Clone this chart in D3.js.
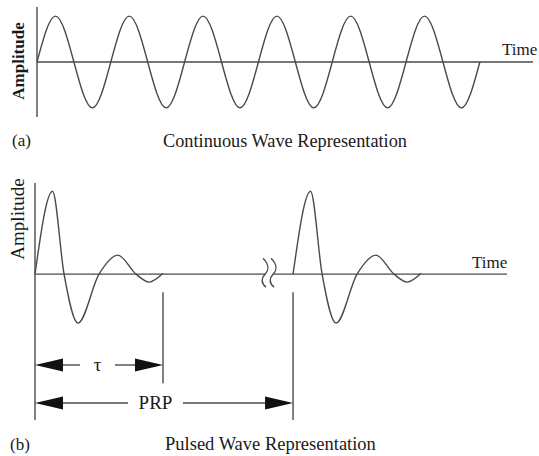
<!DOCTYPE html>
<html>
<head>
<meta charset="utf-8">
<script src="https://cdn.jsdelivr.net/npm/d3@7"></script>
<style>
  html, body { margin: 0; padding: 0; background: #fff; }
  svg { display: block; }
  text { font-family: "Liberation Serif", "Times New Roman", serif; fill: #1a1a1a; }
</style>
</head>
<body>
<svg id="chart" width="539" height="456"></svg>
<script>
// ---- (a) continuous wave: quarter-period samples (time in periods, normalised amplitude)
const cwTime = [0, 0.25, 0.5, 0.75, 1, 1.25, 1.5, 1.75, 2, 2.25, 2.5, 2.75, 3,
                3.25, 3.5, 3.75, 4, 4.25, 4.5, 4.75, 5, 5.25, 5.5, 5.75, 6];
const cwAmp  = [0, 1, 0, -1, 0, 1, 0, -1, 0, 1, 0, -1, 0,
                1, 0, -1, 0, 1, 0, -1, 0, 1, 0, -1, 0];

// ---- (b) pulsed wave: one ringing pulse (time in units of pulse width tau)
const pulseTime = [0, 0.137, 0.227, 0.336, 0.5, 0.648, 0.789, 0.891, 1.0];
const pulseAmp  = [0, 1, 0, -0.59, 0, 0.23, 0, -0.096, 0.01];
const pulseStarts = [0, 2.016];   // pulse repetition period PRP = 2.016 tau
const pulseWidth = 1.0;           // tau

const labels = {
  amplitude: "Amplitude",
  time: "Time",
  panelA: "(a)",
  panelB: "(b)",
  titleA: "Continuous Wave Representation",
  titleB: "Pulsed Wave Representation",
  tau: "τ",
  prp: "PRP"
};

const svg = d3.select("#chart");
const ink = "#4a4a4a";
const lw = 1.4;

// ================= panel (a) =================
const xA = d3.scaleLinear().domain([0, 6.72]).range([37, 533]);
const yA = d3.scaleLinear().domain([-1.2, 1.2]).range([117, 7]);

const gA = svg.append("g");
// amplitude axis
gA.append("line")
  .attr("x1", xA(0)).attr("x2", xA(0))
  .attr("y1", yA(-1.2)).attr("y2", yA(1.2))
  .attr("stroke", ink).attr("stroke-width", lw);
// time axis
gA.append("line")
  .attr("x1", xA(0)).attr("x2", xA(6.72))
  .attr("y1", yA(0)).attr("y2", yA(0))
  .attr("stroke", ink).attr("stroke-width", lw);

const lineA = d3.line()
  .x((d, i) => xA(cwTime[i]))
  .y(d => yA(d))
  .curve(d3.curveNatural);
gA.append("path")
  .attr("d", lineA(cwAmp))
  .attr("fill", "none").attr("stroke", ink).attr("stroke-width", lw);

gA.append("text")
  .attr("transform", `translate(24,${yA(0) - 1}) rotate(-90)`)
  .attr("text-anchor", "middle")
  .attr("font-size", 17).attr("font-weight", "bold")
  .text(labels.amplitude);
gA.append("text").attr("x", 502).attr("y", 55).attr("font-size", 17).text(labels.time);
gA.append("text").attr("x", 12).attr("y", 146).attr("font-size", 17).text(labels.panelA);
gA.append("text").attr("x", 163).attr("y", 147).attr("font-size", 18.3).text(labels.titleA);

// ================= panel (b) =================
const xB = d3.scaleLinear().domain([0, 3.6875]).range([35, 507]);
const yB = d3.scaleLinear().domain([-1.76, 1.1]).range([420, 183]);
const y0 = yB(0);

const gB = svg.append("g");
// amplitude axis (continues down as the left reference line)
gB.append("line")
  .attr("x1", xB(0)).attr("x2", xB(0))
  .attr("y1", yB(1.1)).attr("y2", yB(-1.76))
  .attr("stroke", ink).attr("stroke-width", lw);

// broken time axis
const breakL = 1.797, breakR = 1.86;
gB.append("line")
  .attr("x1", xB(0)).attr("x2", xB(breakL))
  .attr("y1", y0).attr("y2", y0)
  .attr("stroke", ink).attr("stroke-width", lw);
gB.append("line")
  .attr("x1", xB(breakR)).attr("x2", xB(3.6875))
  .attr("y1", y0).attr("y2", y0)
  .attr("stroke", ink).attr("stroke-width", lw);

// break marks: two S-shaped strokes
[breakL, breakR].forEach(t => {
  const bx = xB(t);
  const p = d3.path();
  p.moveTo(bx - 2, y0 - 16);
  p.bezierCurveTo(bx + 4, y0 - 10, bx + 4, y0 - 4, bx, y0);
  p.bezierCurveTo(bx - 4, y0 + 4, bx - 4, y0 + 9, bx + 1, y0 + 13);
  gB.append("path").attr("d", p.toString())
    .attr("fill", "none").attr("stroke", ink).attr("stroke-width", lw);
});

// pulses
const lineB = d3.line()
  .x(d => xB(d[0]))
  .y(d => yB(d[1]))
  .curve(d3.curveMonotoneX);
pulseStarts.forEach(s => {
  const pts = pulseTime.map((t, i) => [s + t, pulseAmp[i]]);
  gB.append("path")
    .attr("d", lineB(pts))
    .attr("fill", "none").attr("stroke", ink).attr("stroke-width", lw);
});

// reference ticks at end of first pulse and start of second pulse
gB.append("line")
  .attr("x1", xB(pulseWidth)).attr("x2", xB(pulseWidth))
  .attr("y1", y0 + 18).attr("y2", y0 + 109)
  .attr("stroke", ink).attr("stroke-width", lw);
gB.append("line")
  .attr("x1", xB(pulseStarts[1])).attr("x2", xB(pulseStarts[1]))
  .attr("y1", y0 + 18).attr("y2", yB(-1.76))
  .attr("stroke", ink).attr("stroke-width", lw);

// dimension arrows
function dimension(x1, x2, y, gapL, gapR, label, fs) {
  const head = 28, half = 6.5;
  gB.append("path")
    .attr("d", `M${x1},${y}L${x1 + head},${y - half}L${x1 + head},${y + half}Z`)
    .attr("fill", "#111");
  gB.append("path")
    .attr("d", `M${x2},${y}L${x2 - head},${y - half}L${x2 - head},${y + half}Z`)
    .attr("fill", "#111");
  gB.append("line").attr("x1", x1 + head).attr("x2", gapL).attr("y1", y).attr("y2", y)
    .attr("stroke", ink).attr("stroke-width", lw);
  gB.append("line").attr("x1", gapR).attr("x2", x2 - head).attr("y1", y).attr("y2", y)
    .attr("stroke", ink).attr("stroke-width", lw);
  gB.append("text")
    .attr("x", (gapL + gapR) / 2).attr("y", y + fs * 0.33)
    .attr("text-anchor", "middle").attr("font-size", fs)
    .text(label);
}
dimension(xB(0), xB(pulseWidth), 365, 80, 115, labels.tau, 19);
dimension(xB(0), xB(pulseStarts[1]), 403, 128, 183, labels.prp, 19);

gB.append("text")
  .attr("transform", `translate(24,219) rotate(-90)`)
  .attr("text-anchor", "middle")
  .attr("font-size", 19)
  .text(labels.amplitude);
gB.append("text").attr("x", 472).attr("y", 268).attr("font-size", 17).text(labels.time);
gB.append("text").attr("x", 10).attr("y", 450).attr("font-size", 17).text(labels.panelB);
gB.append("text").attr("x", 165).attr("y", 450).attr("font-size", 18.5).text(labels.titleB);
</script>
</body>
</html>
